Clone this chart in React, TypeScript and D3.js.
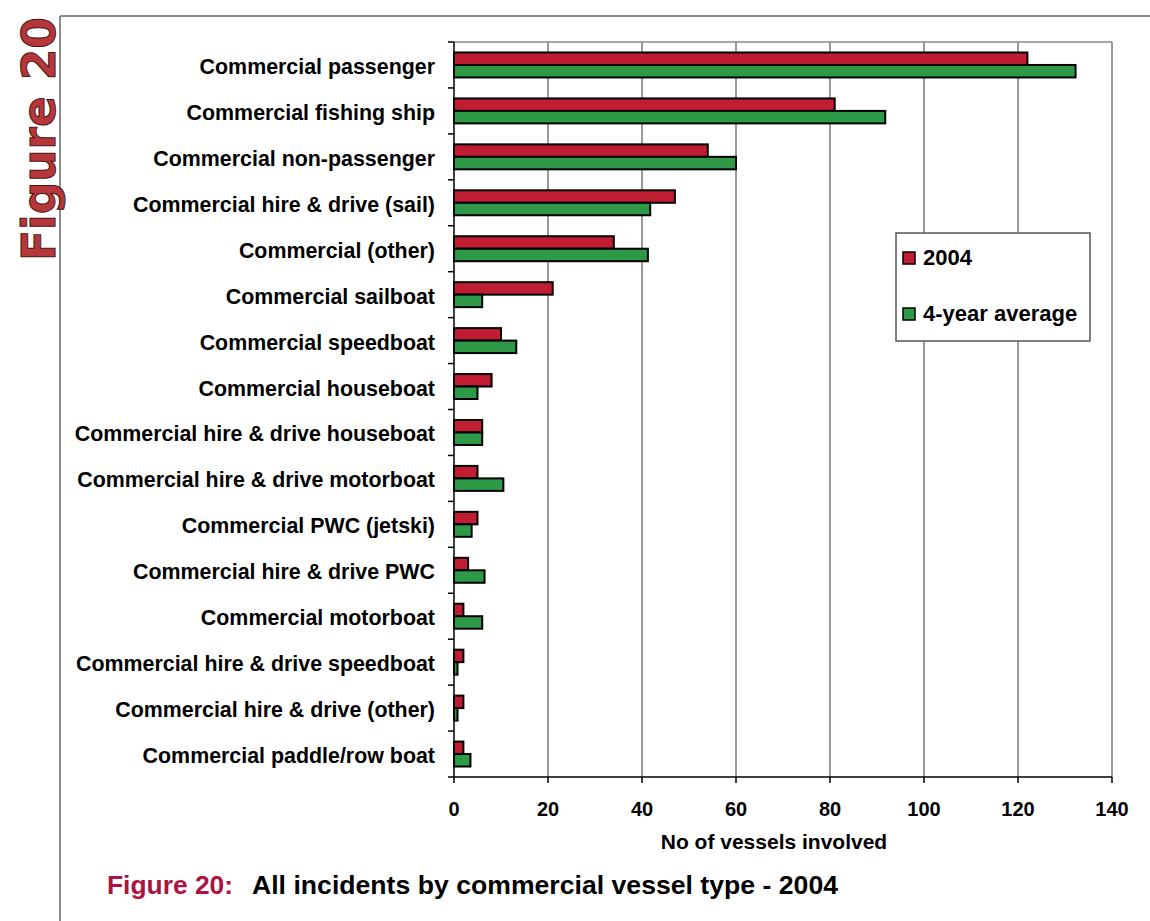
import React from "react";
import * as d3 from "d3";

const categories = [
  "Commercial passenger",
  "Commercial fishing ship",
  "Commercial non-passenger",
  "Commercial hire & drive (sail)",
  "Commercial (other)",
  "Commercial sailboat",
  "Commercial speedboat",
  "Commercial houseboat",
  "Commercial hire & drive houseboat",
  "Commercial hire & drive motorboat",
  "Commercial PWC (jetski)",
  "Commercial hire & drive PWC",
  "Commercial motorboat",
  "Commercial hire & drive speedboat",
  "Commercial hire & drive (other)",
  "Commercial paddle/row boat",
];
const values2004 = [122, 81, 54, 47, 34, 21, 10, 8, 6, 5, 5, 3, 2, 2, 2, 2];
const valuesAvg = [132.25, 91.75, 60, 41.75, 41.25, 6, 13.25, 5, 6, 10.5, 3.75, 6.5, 6, 0.75, 0.75, 3.5];
const xTicks = [0, 20, 40, 60, 80, 100, 120, 140];
const seriesNames = ["2004", "4-year average"];
const seriesColors = ["#c01c32", "#2e9a48"];

const W = 1150, H = 921;
const L = 454, R = 1112, T = 42, B = 777;
const FONT = "'Liberation Sans', Arial, sans-serif";

export default function App() {
  const x = d3.scaleLinear().domain([0, 140]).range([L, R]);
  const y = d3.scaleBand().domain(categories).range([T, B]).paddingInner(0).paddingOuter(0);
  const bw = y.bandwidth();
  const inner = d3.scaleBand().domain(["a", "b"]).range([0, bw]).paddingOuter(0.84).paddingInner(0);
  const ib = inner.bandwidth();
  const series = [values2004, valuesAvg];
  const boundaries = d3.range(categories.length + 1).map((i) => T + i * bw);

  return (
    <svg width={W} height={H} style={{ position: "absolute", left: 0, top: 0, background: "#fff" }}>
      {/* page frame */}
      <line x1={60} y1={16} x2={W} y2={16} stroke="#666" strokeWidth={1.5} />
      <line x1={60} y1={16} x2={60} y2={H} stroke="#666" strokeWidth={1.5} />
      {/* vertical Figure label */}
      <text
        transform={`translate(55,139) rotate(-90)`}
        textAnchor="middle"
        fontFamily="'DejaVu Sans', Verdana, sans-serif"
        fontWeight="bold"
        fontSize={46}
        fill="#b5373a"
        stroke="#4a1515"
        strokeWidth={1}
        textLength={244}
        lengthAdjust="spacingAndGlyphs"
      >
        Figure 20
      </text>

      {/* gridlines */}
      {xTicks.slice(1).map((t) => (
        <line key={"g" + t} x1={x(t)} x2={x(t)} y1={T} y2={B} stroke="#777" strokeWidth={1.5} />
      ))}
      <line x1={L} x2={R} y1={T} y2={T} stroke="#888" strokeWidth={1.5} />

      {/* bars */}
      {categories.map((c, i) =>
        series.map((s, k) => (
          <rect
            key={c + k}
            x={x(0)}
            y={(y(c) as number) + (inner(k === 0 ? "a" : "b") as number)}
            width={x(s[i]) - x(0)}
            height={ib}
            fill={seriesColors[k]}
            stroke="#000"
            strokeWidth={2}
          />
        ))
      )}

      {/* axes */}
      <line x1={L} x2={L} y1={T} y2={B} stroke="#000" strokeWidth={1.5} />
      <line x1={L} x2={R} y1={B} y2={B} stroke="#000" strokeWidth={1.5} />
      {boundaries.map((b, i) => (
        <line key={"yt" + i} x1={L - 6} x2={L} y1={b} y2={b} stroke="#000" strokeWidth={1.5} />
      ))}
      {xTicks.map((t) => (
        <g key={"xt" + t}>
          <line x1={x(t)} x2={x(t)} y1={B} y2={B + 6} stroke="#000" strokeWidth={1.5} />
          <text x={x(t)} y={816} textAnchor="middle" fontFamily={FONT} fontWeight="bold" fontSize={20}>
            {t}
          </text>
        </g>
      ))}
      {categories.map((c) => (
        <text
          key={"lab" + c}
          x={435}
          y={(y(c) as number) + bw / 2 + 9}
          textAnchor="end"
          fontFamily={FONT}
          fontWeight="bold"
          fontSize={21.4}
        >
          {c}
        </text>
      ))}
      <text x={774} y={849} textAnchor="middle" fontFamily={FONT} fontWeight="bold" fontSize={21}>
        No of vessels involved
      </text>

      {/* legend */}
      <rect x={896} y={233} width={194} height={108} fill="#fff" stroke="#555" strokeWidth={1.5} />
      {seriesNames.map((n, k) => (
        <g key={n}>
          <rect x={903} y={252 + k * 56} width={12} height={12} fill={seriesColors[k]} stroke="#000" strokeWidth={1.5} />
          <text x={923} y={265 + k * 56} fontFamily={FONT} fontWeight="bold" fontSize={22}>
            {n}
          </text>
        </g>
      ))}

      {/* caption */}
      <text x={107} y={894} fontFamily={FONT} fontWeight="bold" fontSize={25} fill="#b0123f" textLength={126} lengthAdjust="spacingAndGlyphs">
        Figure 20:
      </text>
      <text x={252} y={894} fontFamily={FONT} fontWeight="bold" fontSize={25} fill="#000" textLength={586} lengthAdjust="spacingAndGlyphs">
        All incidents by commercial vessel type - 2004
      </text>
    </svg>
  );
}
